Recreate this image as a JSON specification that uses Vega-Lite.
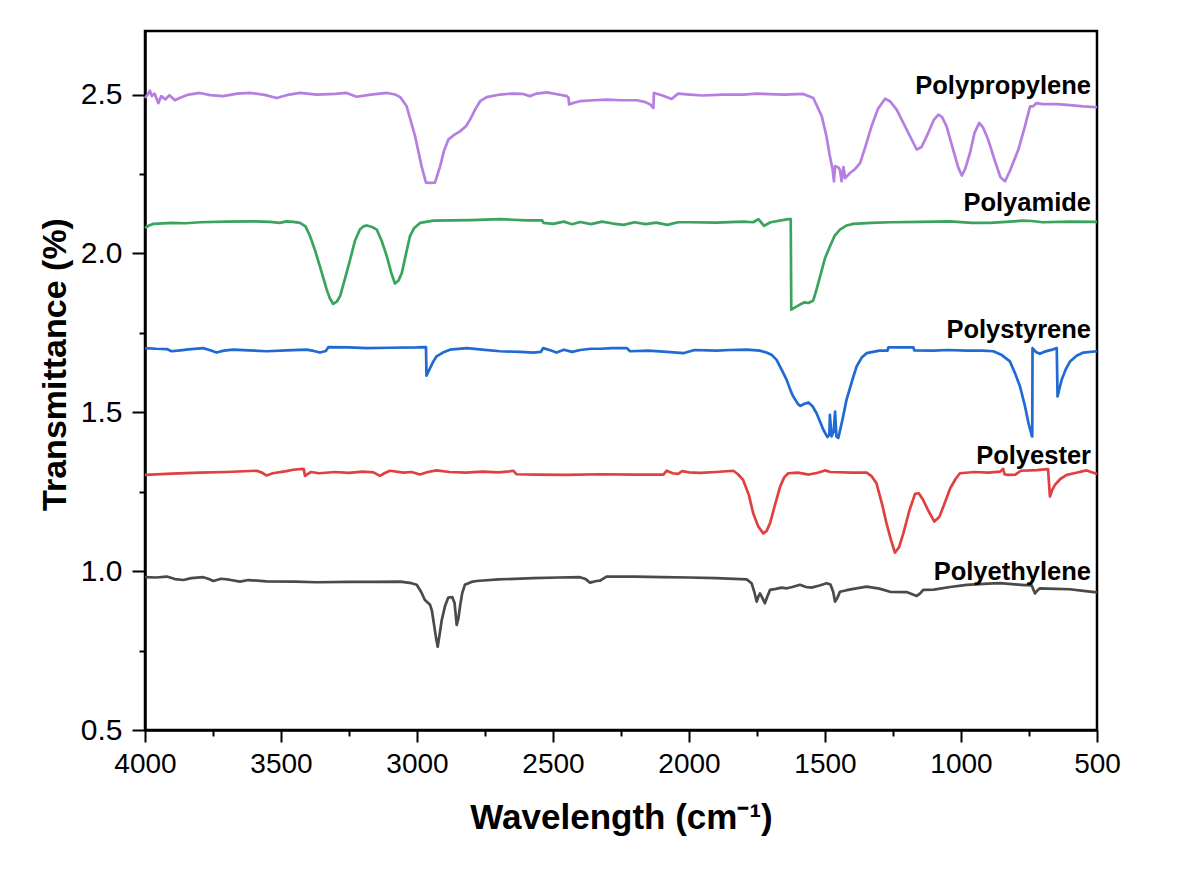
{
"$schema": "https://vega.github.io/schema/vega-lite/v6.json",
"width": 952, "height": 699,
"autosize": {"type": "none"},
"padding": {"left": 145, "top": 31, "right": 89, "bottom": 139},
"background": "white",
"config": {"view": {"stroke": "black", "strokeWidth": 2.5}, "font": "Liberation Sans"},
"datasets": {
"spectra": [
{"series":"Polypropylene","wn":4000,"T":2.489},{"series":"Polypropylene","wn":3990,"T":2.500},{"series":"Polypropylene","wn":3982,"T":2.512},{"series":"Polypropylene","wn":3975,"T":2.495},{"series":"Polypropylene","wn":3965,"T":2.503},{"series":"Polypropylene","wn":3951,"T":2.473},{"series":"Polypropylene","wn":3940,"T":2.495},{"series":"Polypropylene","wn":3925,"T":2.485},{"series":"Polypropylene","wn":3910,"T":2.498},{"series":"Polypropylene","wn":3890,"T":2.482},{"series":"Polypropylene","wn":3871,"T":2.490},{"series":"Polypropylene","wn":3840,"T":2.500},{"series":"Polypropylene","wn":3798,"T":2.505},{"series":"Polypropylene","wn":3760,"T":2.498},{"series":"Polypropylene","wn":3713,"T":2.495},{"series":"Polypropylene","wn":3660,"T":2.503},{"series":"Polypropylene","wn":3614,"T":2.505},{"series":"Polypropylene","wn":3560,"T":2.499},{"series":"Polypropylene","wn":3516,"T":2.489},{"series":"Polypropylene","wn":3470,"T":2.500},{"series":"Polypropylene","wn":3430,"T":2.505},{"series":"Polypropylene","wn":3369,"T":2.500},{"series":"Polypropylene","wn":3300,"T":2.502},{"series":"Polypropylene","wn":3259,"T":2.505},{"series":"Polypropylene","wn":3222,"T":2.493},{"series":"Polypropylene","wn":3170,"T":2.500},{"series":"Polypropylene","wn":3111,"T":2.505},{"series":"Polypropylene","wn":3080,"T":2.500},{"series":"Polypropylene","wn":3062,"T":2.492},{"series":"Polypropylene","wn":3038,"T":2.463},{"series":"Polypropylene","wn":3007,"T":2.369},{"series":"Polypropylene","wn":2983,"T":2.274},{"series":"Polypropylene","wn":2967,"T":2.223},{"series":"Polypropylene","wn":2950,"T":2.222},{"series":"Polypropylene","wn":2934,"T":2.223},{"series":"Polypropylene","wn":2924,"T":2.250},{"series":"Polypropylene","wn":2915,"T":2.274},{"series":"Polypropylene","wn":2900,"T":2.325},{"series":"Polypropylene","wn":2885,"T":2.358},{"series":"Polypropylene","wn":2865,"T":2.372},{"series":"Polypropylene","wn":2842,"T":2.384},{"series":"Polypropylene","wn":2820,"T":2.400},{"series":"Polypropylene","wn":2805,"T":2.421},{"series":"Polypropylene","wn":2785,"T":2.455},{"series":"Polypropylene","wn":2768,"T":2.479},{"series":"Polypropylene","wn":2744,"T":2.492},{"series":"Polypropylene","wn":2695,"T":2.500},{"series":"Polypropylene","wn":2650,"T":2.503},{"series":"Polypropylene","wn":2610,"T":2.502},{"series":"Polypropylene","wn":2585,"T":2.495},{"series":"Polypropylene","wn":2560,"T":2.503},{"series":"Polypropylene","wn":2522,"T":2.507},{"series":"Polypropylene","wn":2480,"T":2.500},{"series":"Polypropylene","wn":2449,"T":2.495},{"series":"Polypropylene","wn":2443,"T":2.490},{"series":"Polypropylene","wn":2441,"T":2.469},{"series":"Polypropylene","wn":2420,"T":2.475},{"series":"Polypropylene","wn":2401,"T":2.479},{"series":"Polypropylene","wn":2350,"T":2.482},{"series":"Polypropylene","wn":2302,"T":2.484},{"series":"Polypropylene","wn":2250,"T":2.482},{"series":"Polypropylene","wn":2191,"T":2.482},{"series":"Polypropylene","wn":2160,"T":2.476},{"series":"Polypropylene","wn":2143,"T":2.469},{"series":"Polypropylene","wn":2131,"T":2.458},{"series":"Polypropylene","wn":2129,"T":2.505},{"series":"Polypropylene","wn":2100,"T":2.498},{"series":"Polypropylene","wn":2064,"T":2.486},{"series":"Polypropylene","wn":2040,"T":2.503},{"series":"Polypropylene","wn":1996,"T":2.500},{"series":"Polypropylene","wn":1950,"T":2.497},{"series":"Polypropylene","wn":1874,"T":2.500},{"series":"Polypropylene","wn":1800,"T":2.500},{"series":"Polypropylene","wn":1751,"T":2.503},{"series":"Polypropylene","wn":1650,"T":2.500},{"series":"Polypropylene","wn":1580,"T":2.502},{"series":"Polypropylene","wn":1543,"T":2.489},{"series":"Polypropylene","wn":1512,"T":2.432},{"series":"Polypropylene","wn":1495,"T":2.370},{"series":"Polypropylene","wn":1482,"T":2.306},{"series":"Polypropylene","wn":1472,"T":2.264},{"series":"Polypropylene","wn":1467,"T":2.227},{"series":"Polypropylene","wn":1463,"T":2.275},{"series":"Polypropylene","wn":1450,"T":2.270},{"series":"Polypropylene","wn":1445,"T":2.262},{"series":"Polypropylene","wn":1439,"T":2.227},{"series":"Polypropylene","wn":1432,"T":2.272},{"series":"Polypropylene","wn":1426,"T":2.237},{"series":"Polypropylene","wn":1408,"T":2.253},{"series":"Polypropylene","wn":1390,"T":2.265},{"series":"Polypropylene","wn":1371,"T":2.284},{"series":"Polypropylene","wn":1350,"T":2.340},{"series":"Polypropylene","wn":1329,"T":2.400},{"series":"Polypropylene","wn":1305,"T":2.455},{"series":"Polypropylene","wn":1279,"T":2.487},{"series":"Polypropylene","wn":1260,"T":2.478},{"series":"Polypropylene","wn":1236,"T":2.452},{"series":"Polypropylene","wn":1200,"T":2.390},{"series":"Polypropylene","wn":1163,"T":2.327},{"series":"Polypropylene","wn":1145,"T":2.335},{"series":"Polypropylene","wn":1126,"T":2.369},{"series":"Polypropylene","wn":1100,"T":2.420},{"series":"Polypropylene","wn":1083,"T":2.437},{"series":"Polypropylene","wn":1070,"T":2.430},{"series":"Polypropylene","wn":1053,"T":2.400},{"series":"Polypropylene","wn":1030,"T":2.330},{"series":"Polypropylene","wn":1010,"T":2.270},{"series":"Polypropylene","wn":997,"T":2.245},{"series":"Polypropylene","wn":985,"T":2.265},{"series":"Polypropylene","wn":967,"T":2.316},{"series":"Polypropylene","wn":950,"T":2.380},{"series":"Polypropylene","wn":933,"T":2.411},{"series":"Polypropylene","wn":918,"T":2.395},{"series":"Polypropylene","wn":900,"T":2.358},{"series":"Polypropylene","wn":875,"T":2.290},{"series":"Polypropylene","wn":855,"T":2.240},{"series":"Polypropylene","wn":838,"T":2.227},{"series":"Polypropylene","wn":820,"T":2.260},{"series":"Polypropylene","wn":789,"T":2.327},{"series":"Polypropylene","wn":765,"T":2.400},{"series":"Polypropylene","wn":746,"T":2.463},{"series":"Polypropylene","wn":735,"T":2.463},{"series":"Polypropylene","wn":722,"T":2.473},{"series":"Polypropylene","wn":700,"T":2.470},{"series":"Polypropylene","wn":648,"T":2.470},{"series":"Polypropylene","wn":600,"T":2.467},{"series":"Polypropylene","wn":550,"T":2.463},{"series":"Polypropylene","wn":500,"T":2.460},
{"series":"Polyamide","wn":4000,"T":2.080},{"series":"Polyamide","wn":3985,"T":2.088},{"series":"Polyamide","wn":3969,"T":2.093},{"series":"Polyamide","wn":3900,"T":2.096},{"series":"Polyamide","wn":3850,"T":2.095},{"series":"Polyamide","wn":3798,"T":2.098},{"series":"Polyamide","wn":3700,"T":2.100},{"series":"Polyamide","wn":3602,"T":2.101},{"series":"Polyamide","wn":3540,"T":2.099},{"series":"Polyamide","wn":3504,"T":2.096},{"series":"Polyamide","wn":3480,"T":2.101},{"series":"Polyamide","wn":3455,"T":2.099},{"series":"Polyamide","wn":3430,"T":2.096},{"series":"Polyamide","wn":3410,"T":2.085},{"series":"Polyamide","wn":3393,"T":2.054},{"series":"Polyamide","wn":3375,"T":2.010},{"series":"Polyamide","wn":3357,"T":1.959},{"series":"Polyamide","wn":3340,"T":1.910},{"series":"Polyamide","wn":3332,"T":1.886},{"series":"Polyamide","wn":3320,"T":1.858},{"series":"Polyamide","wn":3308,"T":1.841},{"series":"Polyamide","wn":3295,"T":1.848},{"series":"Polyamide","wn":3283,"T":1.865},{"series":"Polyamide","wn":3265,"T":1.920},{"series":"Polyamide","wn":3246,"T":1.980},{"series":"Polyamide","wn":3228,"T":2.040},{"series":"Polyamide","wn":3210,"T":2.075},{"series":"Polyamide","wn":3195,"T":2.086},{"series":"Polyamide","wn":3185,"T":2.088},{"series":"Polyamide","wn":3165,"T":2.083},{"series":"Polyamide","wn":3148,"T":2.075},{"series":"Polyamide","wn":3130,"T":2.040},{"series":"Polyamide","wn":3111,"T":1.991},{"series":"Polyamide","wn":3095,"T":1.940},{"series":"Polyamide","wn":3081,"T":1.905},{"series":"Polyamide","wn":3068,"T":1.915},{"series":"Polyamide","wn":3056,"T":1.938},{"series":"Polyamide","wn":3040,"T":2.000},{"series":"Polyamide","wn":3026,"T":2.054},{"series":"Polyamide","wn":3010,"T":2.080},{"series":"Polyamide","wn":2989,"T":2.096},{"series":"Polyamide","wn":2940,"T":2.103},{"series":"Polyamide","wn":2800,"T":2.105},{"series":"Polyamide","wn":2695,"T":2.108},{"series":"Polyamide","wn":2600,"T":2.104},{"series":"Polyamide","wn":2540,"T":2.104},{"series":"Polyamide","wn":2535,"T":2.096},{"series":"Polyamide","wn":2500,"T":2.093},{"series":"Polyamide","wn":2460,"T":2.100},{"series":"Polyamide","wn":2430,"T":2.092},{"series":"Polyamide","wn":2400,"T":2.099},{"series":"Polyamide","wn":2360,"T":2.092},{"series":"Polyamide","wn":2320,"T":2.100},{"series":"Polyamide","wn":2280,"T":2.094},{"series":"Polyamide","wn":2240,"T":2.090},{"series":"Polyamide","wn":2200,"T":2.098},{"series":"Polyamide","wn":2160,"T":2.092},{"series":"Polyamide","wn":2120,"T":2.097},{"series":"Polyamide","wn":2080,"T":2.090},{"series":"Polyamide","wn":2040,"T":2.098},{"series":"Polyamide","wn":1996,"T":2.098},{"series":"Polyamide","wn":1900,"T":2.097},{"series":"Polyamide","wn":1800,"T":2.100},{"series":"Polyamide","wn":1764,"T":2.098},{"series":"Polyamide","wn":1745,"T":2.108},{"series":"Polyamide","wn":1724,"T":2.087},{"series":"Polyamide","wn":1700,"T":2.098},{"series":"Polyamide","wn":1635,"T":2.108},{"series":"Polyamide","wn":1626,"T":2.108},{"series":"Polyamide","wn":1624,"T":1.823},{"series":"Polyamide","wn":1610,"T":1.830},{"series":"Polyamide","wn":1592,"T":1.839},{"series":"Polyamide","wn":1575,"T":1.846},{"series":"Polyamide","wn":1561,"T":1.844},{"series":"Polyamide","wn":1543,"T":1.852},{"series":"Polyamide","wn":1530,"T":1.890},{"series":"Polyamide","wn":1518,"T":1.928},{"series":"Polyamide","wn":1500,"T":1.985},{"series":"Polyamide","wn":1482,"T":2.022},{"series":"Polyamide","wn":1465,"T":2.055},{"series":"Polyamide","wn":1445,"T":2.075},{"series":"Polyamide","wn":1420,"T":2.088},{"series":"Polyamide","wn":1396,"T":2.093},{"series":"Polyamide","wn":1330,"T":2.096},{"series":"Polyamide","wn":1261,"T":2.098},{"series":"Polyamide","wn":1150,"T":2.099},{"series":"Polyamide","wn":1040,"T":2.101},{"series":"Polyamide","wn":960,"T":2.096},{"series":"Polyamide","wn":893,"T":2.096},{"series":"Polyamide","wn":772,"T":2.103},{"series":"Polyamide","wn":740,"T":2.102},{"series":"Polyamide","wn":700,"T":2.098},{"series":"Polyamide","wn":600,"T":2.100},{"series":"Polyamide","wn":500,"T":2.099},
{"series":"Polystyrene","wn":4000,"T":1.702},{"series":"Polystyrene","wn":3960,"T":1.700},{"series":"Polystyrene","wn":3920,"T":1.699},{"series":"Polystyrene","wn":3902,"T":1.692},{"series":"Polystyrene","wn":3870,"T":1.695},{"series":"Polystyrene","wn":3840,"T":1.698},{"series":"Polystyrene","wn":3786,"T":1.702},{"series":"Polystyrene","wn":3760,"T":1.695},{"series":"Polystyrene","wn":3737,"T":1.688},{"series":"Polystyrene","wn":3710,"T":1.694},{"series":"Polystyrene","wn":3675,"T":1.697},{"series":"Polystyrene","wn":3620,"T":1.695},{"series":"Polystyrene","wn":3553,"T":1.692},{"series":"Polystyrene","wn":3480,"T":1.695},{"series":"Polystyrene","wn":3406,"T":1.697},{"series":"Polystyrene","wn":3380,"T":1.693},{"series":"Polystyrene","wn":3357,"T":1.688},{"series":"Polystyrene","wn":3335,"T":1.693},{"series":"Polystyrene","wn":3326,"T":1.705},{"series":"Polystyrene","wn":3250,"T":1.704},{"series":"Polystyrene","wn":3185,"T":1.702},{"series":"Polystyrene","wn":3100,"T":1.703},{"series":"Polystyrene","wn":3000,"T":1.704},{"series":"Polystyrene","wn":2967,"T":1.705},{"series":"Polystyrene","wn":2965,"T":1.615},{"series":"Polystyrene","wn":2952,"T":1.639},{"series":"Polystyrene","wn":2940,"T":1.660},{"series":"Polystyrene","wn":2928,"T":1.676},{"series":"Polystyrene","wn":2900,"T":1.690},{"series":"Polystyrene","wn":2879,"T":1.697},{"series":"Polystyrene","wn":2817,"T":1.702},{"series":"Polystyrene","wn":2760,"T":1.697},{"series":"Polystyrene","wn":2695,"T":1.692},{"series":"Polystyrene","wn":2620,"T":1.690},{"series":"Polystyrene","wn":2572,"T":1.688},{"series":"Polystyrene","wn":2545,"T":1.690},{"series":"Polystyrene","wn":2536,"T":1.702},{"series":"Polystyrene","wn":2510,"T":1.695},{"series":"Polystyrene","wn":2487,"T":1.688},{"series":"Polystyrene","wn":2460,"T":1.697},{"series":"Polystyrene","wn":2430,"T":1.690},{"series":"Polystyrene","wn":2400,"T":1.696},{"series":"Polystyrene","wn":2360,"T":1.700},{"series":"Polystyrene","wn":2327,"T":1.700},{"series":"Polystyrene","wn":2280,"T":1.702},{"series":"Polystyrene","wn":2229,"T":1.702},{"series":"Polystyrene","wn":2217,"T":1.692},{"series":"Polystyrene","wn":2150,"T":1.694},{"series":"Polystyrene","wn":2080,"T":1.690},{"series":"Polystyrene","wn":2021,"T":1.686},{"series":"Polystyrene","wn":1980,"T":1.696},{"series":"Polystyrene","wn":1900,"T":1.694},{"series":"Polystyrene","wn":1850,"T":1.696},{"series":"Polystyrene","wn":1788,"T":1.697},{"series":"Polystyrene","wn":1740,"T":1.694},{"series":"Polystyrene","wn":1715,"T":1.688},{"series":"Polystyrene","wn":1695,"T":1.680},{"series":"Polystyrene","wn":1678,"T":1.665},{"series":"Polystyrene","wn":1660,"T":1.635},{"series":"Polystyrene","wn":1641,"T":1.602},{"series":"Polystyrene","wn":1625,"T":1.565},{"series":"Polystyrene","wn":1617,"T":1.550},{"series":"Polystyrene","wn":1600,"T":1.527},{"series":"Polystyrene","wn":1592,"T":1.520},{"series":"Polystyrene","wn":1575,"T":1.527},{"series":"Polystyrene","wn":1561,"T":1.531},{"series":"Polystyrene","wn":1545,"T":1.518},{"series":"Polystyrene","wn":1531,"T":1.497},{"series":"Polystyrene","wn":1518,"T":1.470},{"series":"Polystyrene","wn":1506,"T":1.445},{"series":"Polystyrene","wn":1491,"T":1.422},{"series":"Polystyrene","wn":1484,"T":1.430},{"series":"Polystyrene","wn":1482,"T":1.492},{"series":"Polystyrene","wn":1476,"T":1.424},{"series":"Polystyrene","wn":1468,"T":1.440},{"series":"Polystyrene","wn":1463,"T":1.502},{"series":"Polystyrene","wn":1458,"T":1.424},{"series":"Polystyrene","wn":1451,"T":1.419},{"series":"Polystyrene","wn":1435,"T":1.480},{"series":"Polystyrene","wn":1421,"T":1.539},{"series":"Polystyrene","wn":1400,"T":1.600},{"series":"Polystyrene","wn":1384,"T":1.644},{"series":"Polystyrene","wn":1365,"T":1.672},{"series":"Polystyrene","wn":1347,"T":1.686},{"series":"Polystyrene","wn":1300,"T":1.694},{"series":"Polystyrene","wn":1270,"T":1.694},{"series":"Polystyrene","wn":1267,"T":1.704},{"series":"Polystyrene","wn":1220,"T":1.704},{"series":"Polystyrene","wn":1175,"T":1.704},{"series":"Polystyrene","wn":1172,"T":1.695},{"series":"Polystyrene","wn":1100,"T":1.694},{"series":"Polystyrene","wn":1050,"T":1.696},{"series":"Polystyrene","wn":979,"T":1.694},{"series":"Polystyrene","wn":920,"T":1.694},{"series":"Polystyrene","wn":881,"T":1.692},{"series":"Polystyrene","wn":850,"T":1.680},{"series":"Polystyrene","wn":820,"T":1.660},{"series":"Polystyrene","wn":800,"T":1.620},{"series":"Polystyrene","wn":783,"T":1.581},{"series":"Polystyrene","wn":765,"T":1.520},{"series":"Polystyrene","wn":752,"T":1.466},{"series":"Polystyrene","wn":739,"T":1.424},{"series":"Polystyrene","wn":738,"T":1.424},{"series":"Polystyrene","wn":737,"T":1.702},{"series":"Polystyrene","wn":725,"T":1.690},{"series":"Polystyrene","wn":710,"T":1.684},{"series":"Polystyrene","wn":695,"T":1.690},{"series":"Polystyrene","wn":679,"T":1.694},{"series":"Polystyrene","wn":660,"T":1.698},{"series":"Polystyrene","wn":648,"T":1.702},{"series":"Polystyrene","wn":645,"T":1.550},{"series":"Polystyrene","wn":638,"T":1.575},{"series":"Polystyrene","wn":630,"T":1.602},{"series":"Polystyrene","wn":615,"T":1.635},{"series":"Polystyrene","wn":599,"T":1.660},{"series":"Polystyrene","wn":575,"T":1.678},{"series":"Polystyrene","wn":550,"T":1.688},{"series":"Polystyrene","wn":500,"T":1.692},
{"series":"Polyester","wn":4000,"T":1.303},{"series":"Polyester","wn":3900,"T":1.307},{"series":"Polyester","wn":3798,"T":1.310},{"series":"Polyester","wn":3700,"T":1.312},{"series":"Polyester","wn":3589,"T":1.316},{"series":"Polyester","wn":3570,"T":1.310},{"series":"Polyester","wn":3553,"T":1.301},{"series":"Polyester","wn":3530,"T":1.308},{"series":"Polyester","wn":3480,"T":1.315},{"series":"Polyester","wn":3455,"T":1.319},{"series":"Polyester","wn":3420,"T":1.322},{"series":"Polyester","wn":3416,"T":1.321},{"series":"Polyester","wn":3412,"T":1.300},{"series":"Polyester","wn":3390,"T":1.312},{"series":"Polyester","wn":3360,"T":1.308},{"series":"Polyester","wn":3300,"T":1.312},{"series":"Polyester","wn":3250,"T":1.309},{"series":"Polyester","wn":3200,"T":1.313},{"series":"Polyester","wn":3160,"T":1.311},{"series":"Polyester","wn":3136,"T":1.300},{"series":"Polyester","wn":3120,"T":1.308},{"series":"Polyester","wn":3099,"T":1.316},{"series":"Polyester","wn":3050,"T":1.310},{"series":"Polyester","wn":3020,"T":1.312},{"series":"Polyester","wn":2989,"T":1.304},{"series":"Polyester","wn":2960,"T":1.312},{"series":"Polyester","wn":2928,"T":1.317},{"series":"Polyester","wn":2880,"T":1.312},{"series":"Polyester","wn":2820,"T":1.310},{"series":"Polyester","wn":2760,"T":1.313},{"series":"Polyester","wn":2700,"T":1.311},{"series":"Polyester","wn":2660,"T":1.314},{"series":"Polyester","wn":2646,"T":1.316},{"series":"Polyester","wn":2635,"T":1.305},{"series":"Polyester","wn":2560,"T":1.304},{"series":"Polyester","wn":2450,"T":1.303},{"series":"Polyester","wn":2327,"T":1.305},{"series":"Polyester","wn":2200,"T":1.304},{"series":"Polyester","wn":2094,"T":1.304},{"series":"Polyester","wn":2082,"T":1.316},{"series":"Polyester","wn":2060,"T":1.308},{"series":"Polyester","wn":2040,"T":1.306},{"series":"Polyester","wn":2025,"T":1.315},{"series":"Polyester","wn":2000,"T":1.311},{"series":"Polyester","wn":1960,"T":1.309},{"series":"Polyester","wn":1900,"T":1.312},{"series":"Polyester","wn":1837,"T":1.316},{"series":"Polyester","wn":1820,"T":1.305},{"series":"Polyester","wn":1801,"T":1.287},{"series":"Polyester","wn":1780,"T":1.240},{"series":"Polyester","wn":1764,"T":1.182},{"series":"Polyester","wn":1745,"T":1.140},{"series":"Polyester","wn":1727,"T":1.119},{"series":"Polyester","wn":1715,"T":1.126},{"series":"Polyester","wn":1702,"T":1.151},{"series":"Polyester","wn":1685,"T":1.205},{"series":"Polyester","wn":1665,"T":1.266},{"series":"Polyester","wn":1650,"T":1.295},{"series":"Polyester","wn":1635,"T":1.308},{"series":"Polyester","wn":1600,"T":1.310},{"series":"Polyester","wn":1560,"T":1.304},{"series":"Polyester","wn":1530,"T":1.309},{"series":"Polyester","wn":1500,"T":1.317},{"series":"Polyester","wn":1480,"T":1.312},{"series":"Polyester","wn":1400,"T":1.310},{"series":"Polyester","wn":1347,"T":1.310},{"series":"Polyester","wn":1330,"T":1.300},{"series":"Polyester","wn":1311,"T":1.277},{"series":"Polyester","wn":1290,"T":1.210},{"series":"Polyester","wn":1274,"T":1.151},{"series":"Polyester","wn":1258,"T":1.100},{"series":"Polyester","wn":1243,"T":1.058},{"series":"Polyester","wn":1228,"T":1.075},{"series":"Polyester","wn":1212,"T":1.119},{"series":"Polyester","wn":1190,"T":1.190},{"series":"Polyester","wn":1169,"T":1.243},{"series":"Polyester","wn":1155,"T":1.245},{"series":"Polyester","wn":1139,"T":1.224},{"series":"Polyester","wn":1120,"T":1.190},{"series":"Polyester","wn":1098,"T":1.156},{"series":"Polyester","wn":1080,"T":1.170},{"series":"Polyester","wn":1065,"T":1.203},{"series":"Polyester","wn":1040,"T":1.260},{"series":"Polyester","wn":1020,"T":1.290},{"series":"Polyester","wn":1004,"T":1.308},{"series":"Polyester","wn":950,"T":1.312},{"series":"Polyester","wn":900,"T":1.310},{"series":"Polyester","wn":857,"T":1.313},{"series":"Polyester","wn":845,"T":1.322},{"series":"Polyester","wn":840,"T":1.305},{"series":"Polyester","wn":830,"T":1.303},{"series":"Polyester","wn":800,"T":1.304},{"series":"Polyester","wn":780,"T":1.316},{"series":"Polyester","wn":720,"T":1.318},{"series":"Polyester","wn":685,"T":1.321},{"series":"Polyester","wn":680,"T":1.321},{"series":"Polyester","wn":673,"T":1.235},{"series":"Polyester","wn":665,"T":1.255},{"series":"Polyester","wn":654,"T":1.272},{"series":"Polyester","wn":635,"T":1.290},{"series":"Polyester","wn":611,"T":1.303},{"series":"Polyester","wn":580,"T":1.309},{"series":"Polyester","wn":538,"T":1.317},{"series":"Polyester","wn":500,"T":1.306},
{"series":"Polyethylene","wn":4000,"T":0.981},{"series":"Polyethylene","wn":3960,"T":0.980},{"series":"Polyethylene","wn":3920,"T":0.983},{"series":"Polyethylene","wn":3890,"T":0.975},{"series":"Polyethylene","wn":3859,"T":0.972},{"series":"Polyethylene","wn":3830,"T":0.978},{"series":"Polyethylene","wn":3786,"T":0.981},{"series":"Polyethylene","wn":3765,"T":0.975},{"series":"Polyethylene","wn":3749,"T":0.969},{"series":"Polyethylene","wn":3720,"T":0.976},{"series":"Polyethylene","wn":3690,"T":0.973},{"series":"Polyethylene","wn":3651,"T":0.967},{"series":"Polyethylene","wn":3620,"T":0.972},{"series":"Polyethylene","wn":3553,"T":0.968},{"series":"Polyethylene","wn":3450,"T":0.967},{"series":"Polyethylene","wn":3369,"T":0.965},{"series":"Polyethylene","wn":3250,"T":0.966},{"series":"Polyethylene","wn":3150,"T":0.966},{"series":"Polyethylene","wn":3062,"T":0.967},{"series":"Polyethylene","wn":3020,"T":0.962},{"series":"Polyethylene","wn":3001,"T":0.957},{"series":"Polyethylene","wn":2985,"T":0.935},{"series":"Polyethylene","wn":2971,"T":0.909},{"series":"Polyethylene","wn":2952,"T":0.894},{"series":"Polyethylene","wn":2945,"T":0.875},{"series":"Polyethylene","wn":2940,"T":0.846},{"series":"Polyethylene","wn":2930,"T":0.790},{"series":"Polyethylene","wn":2924,"T":0.762},{"series":"Polyethylene","wn":2917,"T":0.800},{"series":"Polyethylene","wn":2909,"T":0.846},{"series":"Polyethylene","wn":2897,"T":0.890},{"series":"Polyethylene","wn":2885,"T":0.917},{"series":"Polyethylene","wn":2870,"T":0.918},{"series":"Polyethylene","wn":2862,"T":0.900},{"series":"Polyethylene","wn":2854,"T":0.831},{"series":"Polyethylene","wn":2848,"T":0.850},{"series":"Polyethylene","wn":2842,"T":0.888},{"series":"Polyethylene","wn":2834,"T":0.930},{"series":"Polyethylene","wn":2824,"T":0.957},{"series":"Polyethylene","wn":2800,"T":0.966},{"series":"Polyethylene","wn":2781,"T":0.969},{"series":"Polyethylene","wn":2700,"T":0.974},{"series":"Polyethylene","wn":2572,"T":0.978},{"series":"Polyethylene","wn":2480,"T":0.980},{"series":"Polyethylene","wn":2401,"T":0.981},{"series":"Polyethylene","wn":2380,"T":0.975},{"series":"Polyethylene","wn":2364,"T":0.964},{"series":"Polyethylene","wn":2340,"T":0.969},{"series":"Polyethylene","wn":2327,"T":0.970},{"series":"Polyethylene","wn":2303,"T":0.983},{"series":"Polyethylene","wn":2200,"T":0.983},{"series":"Polyethylene","wn":2100,"T":0.981},{"series":"Polyethylene","wn":2000,"T":0.980},{"series":"Polyethylene","wn":1900,"T":0.978},{"series":"Polyethylene","wn":1788,"T":0.974},{"series":"Polyethylene","wn":1770,"T":0.962},{"series":"Polyethylene","wn":1760,"T":0.935},{"series":"Polyethylene","wn":1751,"T":0.904},{"series":"Polyethylene","wn":1745,"T":0.920},{"series":"Polyethylene","wn":1739,"T":0.930},{"series":"Polyethylene","wn":1730,"T":0.915},{"series":"Polyethylene","wn":1721,"T":0.899},{"series":"Polyethylene","wn":1712,"T":0.920},{"series":"Polyethylene","wn":1702,"T":0.941},{"series":"Polyethylene","wn":1680,"T":0.944},{"series":"Polyethylene","wn":1660,"T":0.948},{"series":"Polyethylene","wn":1640,"T":0.946},{"series":"Polyethylene","wn":1620,"T":0.950},{"series":"Polyethylene","wn":1592,"T":0.957},{"series":"Polyethylene","wn":1570,"T":0.950},{"series":"Polyethylene","wn":1550,"T":0.948},{"series":"Polyethylene","wn":1520,"T":0.955},{"series":"Polyethylene","wn":1494,"T":0.962},{"series":"Polyethylene","wn":1480,"T":0.958},{"series":"Polyethylene","wn":1470,"T":0.935},{"series":"Polyethylene","wn":1463,"T":0.904},{"series":"Polyethylene","wn":1455,"T":0.915},{"series":"Polyethylene","wn":1445,"T":0.935},{"series":"Polyethylene","wn":1420,"T":0.940},{"series":"Polyethylene","wn":1390,"T":0.945},{"series":"Polyethylene","wn":1347,"T":0.951},{"series":"Polyethylene","wn":1300,"T":0.945},{"series":"Polyethylene","wn":1261,"T":0.935},{"series":"Polyethylene","wn":1200,"T":0.934},{"series":"Polyethylene","wn":1163,"T":0.922},{"series":"Polyethylene","wn":1150,"T":0.930},{"series":"Polyethylene","wn":1139,"T":0.941},{"series":"Polyethylene","wn":1100,"T":0.942},{"series":"Polyethylene","wn":1040,"T":0.950},{"series":"Polyethylene","wn":979,"T":0.957},{"series":"Polyethylene","wn":900,"T":0.961},{"series":"Polyethylene","wn":857,"T":0.962},{"series":"Polyethylene","wn":780,"T":0.957},{"series":"Polyethylene","wn":740,"T":0.955},{"series":"Polyethylene","wn":728,"T":0.930},{"series":"Polyethylene","wn":718,"T":0.940},{"series":"Polyethylene","wn":710,"T":0.946},{"series":"Polyethylene","wn":650,"T":0.944},{"series":"Polyethylene","wn":600,"T":0.943},{"series":"Polyethylene","wn":550,"T":0.938},{"series":"Polyethylene","wn":500,"T":0.933}
],
"labels": [
{"series":"Polypropylene","wn":500,"T":2.528},
{"series":"Polyamide","wn":500,"T":2.160},
{"series":"Polystyrene","wn":500,"T":1.760},
{"series":"Polyester","wn":500,"T":1.363},
{"series":"Polyethylene","wn":500,"T":0.998}
]
},
"layer": [
{
"data": {"name": "spectra"},
"mark": {"type": "line", "strokeWidth": 2.7, "strokeJoin": "round"},
"encoding": {
"x": {"field": "wn", "type": "quantitative",
 "scale": {"domain": [500, 4000], "reverse": true, "nice": false, "zero": false},
 "axis": {"title": "Wavelength (cm⁻¹)", "grid": false,
  "values": [4000,3750,3500,3250,3000,2750,2500,2250,2000,1750,1500,1250,1000,750,500],
  "labelExpr": "datum.value % 500 === 0 ? datum.label : ''",
  "format": "d", "labelFlush": false, "labelOverlap": false,
  "labelFont": "Liberation Sans", "labelFontSize": 28, "labelColor": "black", "labelPadding": 8,
  "domainColor": "black", "domainWidth": 2.5, "tickColor": "black", "tickWidth": 2,
  "tickSize": {"condition": {"test": "datum.value % 500 === 0", "value": 12}, "value": 6},
  "titleFont": "Liberation Sans", "titleFontSize": 35, "titleFontWeight": "bold", "titleColor": "black",
  "titleBaseline": "alphabetic", "titleY": 98}},
"y": {"field": "T", "type": "quantitative",
 "scale": {"domain": [0.5, 2.7], "nice": false, "zero": false},
 "axis": {"title": "Transmittance (%)", "grid": false,
  "values": [0.5,0.75,1,1.25,1.5,1.75,2,2.25,2.5],
  "labelExpr": "(datum.value * 4) % 2 === 0 ? format(datum.value, '.1f') : ''",
  "labelFlush": false, "labelOverlap": false,
  "labelFont": "Liberation Sans", "labelFontSize": 30, "labelColor": "black", "labelPadding": 10,
  "domainColor": "black", "domainWidth": 2.5, "tickColor": "black", "tickWidth": 2,
  "tickSize": {"condition": {"test": "(datum.value * 4) % 2 === 0", "value": 13}, "value": 6},
  "titleFont": "Liberation Sans", "titleFontSize": 34, "titleFontWeight": "bold", "titleColor": "black",
  "titleAngle": -90, "titleAlign": "center", "titleBaseline": "alphabetic", "titleX": -80, "titleY": 333}},
"color": {"field": "series", "type": "nominal",
 "scale": {"domain": ["Polypropylene","Polyamide","Polystyrene","Polyester","Polyethylene"],
  "range": ["#b47fe0","#3aa35e","#1f6bd3","#e0403f","#4a4a4a"]},
 "legend": null}
}
},
{
"data": {"name": "labels"},
"mark": {"type": "text", "align": "right", "baseline": "middle", "dx": -6, "font": "Liberation Sans", "fontSize": 25.5, "fontWeight": "bold", "color": "black"},
"encoding": {
"x": {"field": "wn", "type": "quantitative"},
"y": {"field": "T", "type": "quantitative"},
"text": {"field": "series", "type": "nominal"}
}
}
]
}
